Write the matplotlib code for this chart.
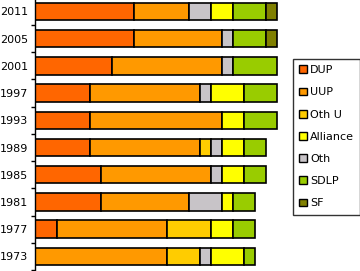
import numpy as np
import matplotlib
matplotlib.use("Agg")
from matplotlib import pyplot as plt
from matplotlib.patches import Patch

years = ['2011', '2005', '2001', '1997', '1993', '1989', '1985', '1981', '1977', '1973']

# seats per party, stacked left to right in this order
dup      = [9, 9, 7, 5, 5, 5, 6, 6, 2, 0]
uup      = [5, 8, 10, 10, 12, 10, 10, 8, 10, 12]
oth_u    = [0, 0, 0, 0, 0, 1, 0, 0, 4, 3]
oth      = [2, 1, 1, 1, 0, 1, 1, 3, 0, 1]
alliance = [2, 0, 0, 3, 2, 2, 2, 1, 2, 3]
sdlp     = [3, 3, 4, 3, 3, 2, 2, 2, 2, 1]
sf       = [1, 1, 0, 0, 0, 0, 0, 0, 0, 0]

stack = [('DUP', dup, '#ff6600'),
         ('UUP', uup, '#ff9900'),
         ('Oth U', oth_u, '#ffcc00'),
         ('Oth', oth, '#c8c4c8'),
         ('Alliance', alliance, '#ffff00'),
         ('SDLP', sdlp, '#99cc00'),
         ('SF', sf, '#808000')]
legend_order = ['DUP', 'UUP', 'Oth U', 'Alliance', 'Oth', 'SDLP', 'SF']

fig = plt.figure(figsize=(3.6, 2.71), dpi=100)
ax = fig.add_axes([35 / 360, 1 - 270 / 271, 253 / 360, 272.2 / 271])

y = np.arange(len(years))
left = np.zeros(len(years))
colors = {}
for name, vals, col in stack:
    vals = np.array(vals, dtype=float)
    keep = vals > 0
    ax.barh(y[keep], vals[keep], left=left[keep], height=0.64,
            color=col, edgecolor='black', linewidth=1.2)
    left += vals
    colors[name] = col

ax.set_xlim(0, 23)
ax.set_ylim(len(years) - 0.5, -0.5)

# tick marks between rows, labels at row centres
ax.set_yticks(np.arange(len(years)) + 0.5)
ax.set_yticklabels([])
ax.tick_params(axis='y', which='major', length=3, width=1, direction='out')
ax.set_yticks(y, minor=True)
ax.set_yticklabels(years, minor=True, fontsize=8)
ax.tick_params(axis='y', which='minor', length=0, pad=5)

ax.xaxis.set_visible(False)
for s in ['top', 'right', 'bottom']:
    ax.spines[s].set_visible(False)
ax.spines['left'].set_linewidth(1)

handles = [Patch(facecolor=colors[n], edgecolor='black', linewidth=1, label=n)
           for n in legend_order]
leg = fig.legend(handles=handles, loc='upper left',
                 bbox_to_anchor=(293 / 360, 1 - 59 / 271),
                 fontsize=8, frameon=True, fancybox=False,
                 handlelength=0.7, handleheight=0.7, handletextpad=0.3,
                 labelspacing=1.1, borderpad=0.55, borderaxespad=0)
leg.get_frame().set_edgecolor('black')
leg.get_frame().set_linewidth(1)

plt.savefig('out.png', dpi=100)
